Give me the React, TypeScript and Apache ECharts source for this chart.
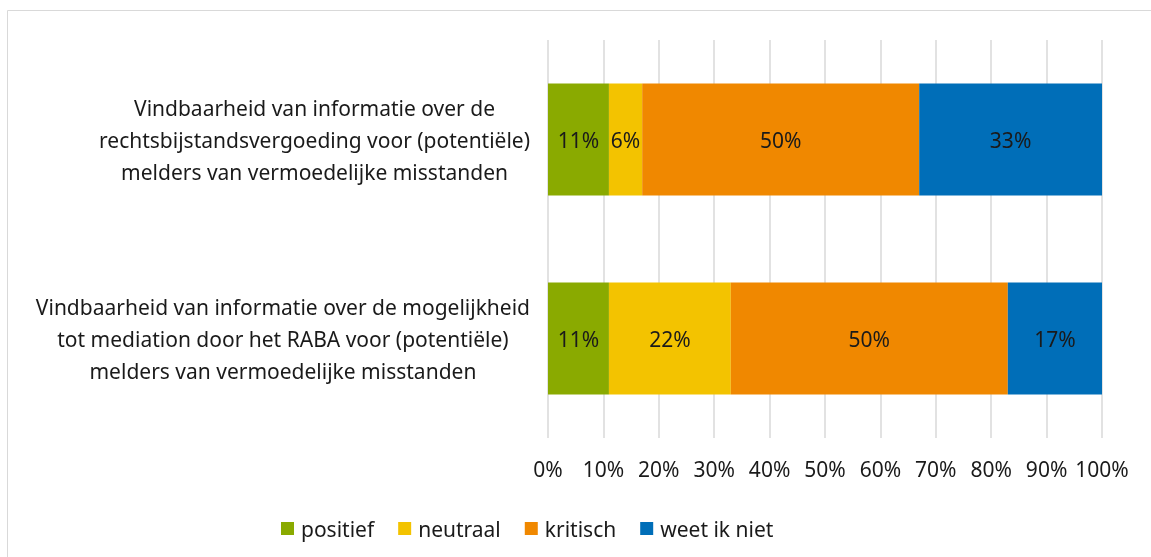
import React, { useEffect, useRef } from "react";
import * as echarts from "echarts";

const categories = [
  "Vindbaarheid van informatie over de\nrechtsbijstandsvergoeding voor (potentiële)\nmelders van vermoedelijke misstanden",
  "Vindbaarheid van informatie over de mogelijkheid\ntot mediation door het RABA voor (potentiële)\nmelders van vermoedelijke misstanden",
];
const seriesNames = ["positief", "neutraal", "kritisch", "weet ik niet"];
const positief = [11, 11];
const neutraal = [6, 22];
const kritisch = [50, 50];
const weetIkNiet = [33, 17];
const colors = ["#8aaa00", "#f3c300", "#f08800", "#006eb8"];

const FONT = "Noto Sans";
const FS = 21;

export default function App() {
  const ref = useRef<HTMLDivElement>(null);
  useEffect(() => {
    if (!ref.current) return;
    const chart = echarts.init(ref.current, undefined, { renderer: "svg" });
    const data = [positief, neutraal, kritisch, weetIkNiet];
    chart.setOption({
      animation: false,
      textStyle: { fontFamily: FONT },
      graphic: [
        {
          type: "rect",
          shape: { x: 7.5, y: 10.5, width: 1150, height: 600 },
          style: { fill: "none", stroke: "#d9d9d9", lineWidth: 1 },
          silent: true,
        },
      ],
      grid: { left: 548, right: 49, top: 40, bottom: 119 },
      legend: {
        left: 281,
        top: 518,
        padding: 0,
        itemWidth: 13,
        itemHeight: 13,
        itemGap: 24,
        icon: "rect",
        textStyle: { fontSize: FS, color: "#1a1a1a", fontFamily: FONT, padding: [0, 0, 0, 2] },
        data: seriesNames,
      },
      xAxis: {
        type: "value",
        min: 0,
        max: 100,
        interval: 10,
        axisLine: { show: false },
        axisTick: { show: false },
        splitLine: { lineStyle: { color: "#d9d9d9", width: 1.5 } },
        axisLabel: { formatter: "{value}%", fontSize: FS, color: "#1a1a1a", margin: 20, fontFamily: FONT },
      },
      yAxis: {
        type: "category",
        inverse: true,
        data: categories,
        axisLine: { show: false },
        axisTick: { show: false },
        axisLabel: {
          margin: 18,
          align: "right",
          formatter: (v: string) =>
            v
              .split("\n")
              .map((l) => "{c|" + l + "}")
              .join("\n"),
          rich: {
            c: { align: "center", fontSize: FS, lineHeight: 32, color: "#1a1a1a", fontFamily: FONT },
          },
        },
      },
      series: data.map((d, i) => ({
        name: seriesNames[i],
        type: "bar",
        stack: "total",
        barWidth: 112,
        data: d,
        itemStyle: { color: colors[i] },
        label: {
          show: true,
          position: "inside",
          formatter: "{c}%",
          fontSize: FS,
          color: "#1a1a1a",
          fontFamily: FONT,
        },
      })),
    });
    return () => chart.dispose();
  }, []);
  return <div ref={ref} style={{ position: "fixed", left: 0, top: 0, width: 1151, height: 557 }} />;
}
